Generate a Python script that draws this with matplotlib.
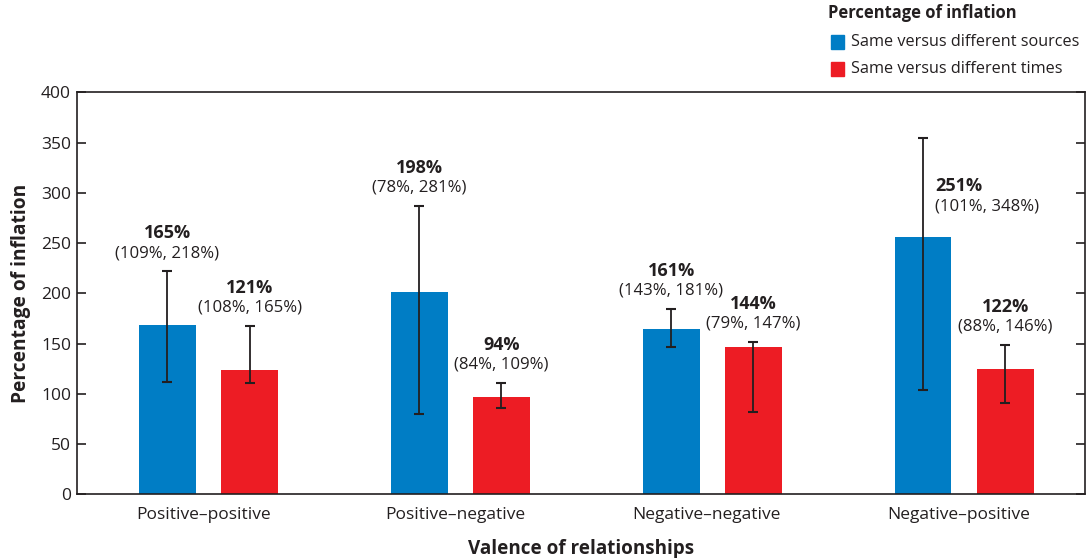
import matplotlib
matplotlib.use('Agg')
from matplotlib import pyplot as plt
from matplotlib.patches import Rectangle
import numpy as np

plt.rcParams['font.family'] = ['Open Sans', 'DejaVu Sans']

categories = ['Positive–positive', 'Positive–negative', 'Negative–negative', 'Negative–positive']

# values as drawn in the picture (bars sit a little above the printed labels)
sources_vals = [168.5, 201, 164.5, 256]
sources_low = [112, 80, 146.6, 103.8]
sources_high = [222, 287, 184.4, 354.6]
sources_pct = ['165%', '198%', '161%', '251%']
sources_ci = ['(109%, 218%)', '(78%, 281%)', '(143%, 181%)', '(101%, 348%)']

times_vals = [123.4, 96.8, 146.6, 124.7]
times_low = [110.8, 86, 82, 90.9]
times_high = [167.5, 110.8, 151.6, 148.6]
times_pct = ['121%', '94%', '144%', '122%']
times_ci = ['(108%, 165%)', '(84%, 109%)', '(79%, 147%)', '(88%, 146%)']

blue = '#007dc5'
red = '#ed1c24'
ink = '#231f20'

fig = plt.figure(figsize=(10.89, 5.58), dpi=100)
ax = fig.add_axes([0.071, 0.1142, 0.925, 0.7204])

x = np.arange(len(categories))
w = 0.226
xb = x - 0.142
xr = x + 0.184

ax.bar(xb, sources_vals, w, color=blue, zorder=2)
ax.bar(xr, times_vals, w, color=red, zorder=2)

sv = np.array(sources_vals)
tv = np.array(times_vals)
ax.errorbar(xb, sv, yerr=[sv - np.array(sources_low), np.array(sources_high) - sv],
            fmt='none', ecolor=ink, elinewidth=1.3, capsize=3.3, capthick=1.5, zorder=3)
ax.errorbar(xr, tv, yerr=[tv - np.array(times_low), np.array(times_high) - tv],
            fmt='none', ecolor=ink, elinewidth=1.3, capsize=3.3, capthick=1.5, zorder=3)

fs = 12.1
fsb = 13.0
for i in range(len(categories)):
    if i == 3:
        # the tall one gets its label beside the error bar
        tx, ha = xb[i] + 0.048, 'left'
        y1, y2 = 306.7, 286
    else:
        tx, ha = xb[i], 'center'
        y1, y2 = sources_high[i] + 38, sources_high[i] + 18
    ax.text(tx, y1, sources_pct[i], ha=ha, va='center', fontsize=fsb, fontweight='bold', color=ink)
    ax.text(tx, y2, sources_ci[i], ha=ha, va='center', fontsize=fs, color=ink)
    ax.text(xr[i], times_high[i] + 38, times_pct[i], ha='center', va='center', fontsize=fsb,
            fontweight='bold', color=ink)
    ax.text(xr[i], times_high[i] + 18, times_ci[i], ha='center', va='center', fontsize=fs, color=ink)

ax.set_xlim(-0.5, 3.5)
ax.set_ylim(0, 400)
ax.set_yticks(range(0, 401, 50))
ax.set_xticks(x)
ax.set_xticklabels(categories, fontsize=12.5, color=ink)
ax.tick_params(axis='x', length=0, pad=9.5)
ax.tick_params(axis='y', direction='in', length=6.7, width=1.2, left=True, right=True,
               labelsize=12.5, labelcolor=ink, color=ink, pad=4.5)
for s in ax.spines.values():
    s.set_color(ink)
    s.set_linewidth(1.2)

ax.set_ylabel('Percentage of inflation', fontsize=13.8, fontweight='bold', color=ink, labelpad=7)
ax.set_xlabel('Valence of relationships', fontsize=13.6, fontweight='bold', color=ink, labelpad=11)

# legend, placed by hand
W, H = 1089, 558
fig.text(828 / W, 1 - 13.5 / H, 'Percentage of inflation', fontsize=11.9, fontweight='bold',
         color=ink, ha='left', va='center')
for yy, col, lab in [(42, blue, 'Same versus different sources'), (69, red, 'Same versus different times')]:
    fig.patches.append(Rectangle((831 / W, 1 - (yy + 6.5) / H), 13 / W, 13 / H,
                                 transform=fig.transFigure, color=col))
    fig.text(851 / W, 1 - yy / H, lab, fontsize=11.7, color=ink, ha='left', va='center')

fig.savefig('out.png', dpi=100)
